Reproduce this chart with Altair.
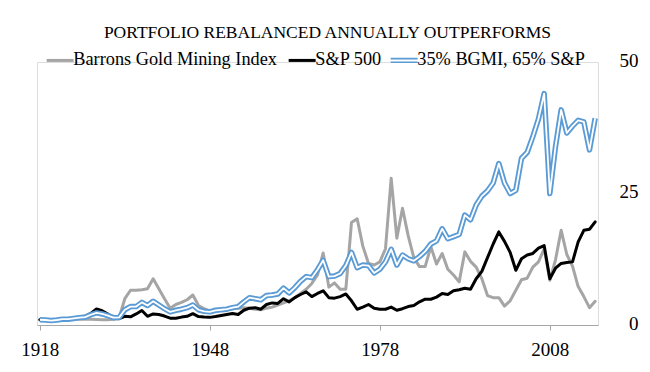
import altair as alt
import pandas as pd

# ---- data ----
years = list(range(1918, 2017))

bgmi = [
    1.0, 0.95, 0.8, 0.95, 1.05, 1.0, 1.1, 1.1, 1.15, 1.1,        # 1918-1927
    1.05, 1.0, 1.0, 1.1, 1.4, 5.0, 6.6, 6.6, 6.7, 6.9,           # 1928-1937
    8.8, 6.9, 5.0, 3.2, 3.9, 4.3, 4.8, 5.7, 3.7, 3.1,            # 1938-1947
    2.6, 2.6, 2.8, 3.0, 3.1, 3.2, 3.3, 3.2, 3.0, 2.9,            # 1948-1957
    3.2, 3.4, 3.8, 4.2, 4.6, 5.2, 6.0, 6.8, 7.9, 9.5,            # 1958-1967
    13.7, 7.2, 8.0, 6.8, 6.8, 19.5, 20.2, 15.0, 11.7, 11.4,      # 1968-1977
    12.0, 14.5, 27.9, 16.5, 22.2, 17.0, 12.8, 11.1, 11.1, 14.9,  # 1978-1987
    11.6, 13.6, 10.6, 9.5, 8.2, 13.9, 12.1, 11.0, 8.8, 5.6,      # 1988-1997
    5.2, 5.2, 3.6, 4.6, 6.6, 8.6, 8.9, 11.0, 12.0, 14.5,         # 1998-2007
    8.5, 12.4, 18.0, 13.4, 11.2, 7.3, 5.4, 3.3, 4.5,             # 2008-2016
]

sp500 = [
    1.0, 1.05, 0.8, 0.95, 1.1, 1.1, 1.3, 1.5, 1.65, 2.2,         # 1918-1927
    3.05, 2.7, 2.1, 1.25, 1.2, 1.65, 1.55, 2.1, 2.75, 1.65,      # 1928-1937
    2.1, 2.0, 1.7, 1.3, 1.3, 1.5, 1.65, 2.15, 1.6, 1.5,          # 1938-1947
    1.45, 1.6, 1.8, 2.0, 2.2, 2.0, 2.8, 3.2, 3.3, 3.0,           # 1948-1957
    3.9, 4.2, 4.1, 5.0, 4.4, 5.2, 5.8, 6.3, 5.4, 6.0,            # 1958-1967
    6.5, 5.2, 5.1, 5.4, 5.9, 4.6, 3.0, 3.4, 3.9, 3.2,            # 1968-1977
    3.0, 3.0, 3.4, 2.8, 3.1, 3.5, 3.7, 4.4, 4.9, 4.9,            # 1978-1987
    5.3, 6.0, 5.8, 6.5, 6.7, 7.0, 6.8, 8.8, 10.2, 12.8,          # 1988-1997
    15.4, 17.7, 15.9, 13.8, 10.4, 12.6, 13.3, 13.6, 14.6, 15.1,  # 1998-2007
    8.8, 10.8, 11.7, 11.9, 12.0, 15.8, 18.0, 18.2, 19.6,         # 2008-2016
]

blend = [
    1.0, 0.95, 0.85, 0.95, 1.1, 1.1, 1.25, 1.4, 1.5, 1.95,       # 1918-1927
    2.3, 2.1, 1.8, 1.4, 1.45, 2.9, 3.5, 3.5, 4.3, 3.7,           # 1928-1937
    4.5, 3.8, 3.1, 2.5, 2.8, 3.0, 3.3, 3.8, 2.9, 2.6,            # 1938-1947
    2.5, 2.8, 2.9, 3.0, 3.3, 3.5, 4.4, 5.2, 5.0, 4.8,            # 1948-1957
    5.6, 5.7, 5.9, 7.0, 6.1, 7.1, 8.3, 9.2, 9.0, 10.5,           # 1958-1967
    12.3, 9.2, 9.3, 9.8, 11.3, 13.8, 10.9, 11.4, 11.3, 9.9,      # 1968-1977
    10.6, 12.0, 14.4, 11.4, 13.3, 12.6, 12.2, 13.0, 14.0, 15.4,  # 1978-1987
    16.0, 18.3, 16.4, 16.8, 17.2, 20.9, 20.0, 22.8, 24.5, 25.5,  # 1988-1997
    27.0, 30.7, 27.0, 25.0, 25.6, 31.7, 32.8, 35.8, 39.2, 44.0,  # 1998-2007
    25.0, 33.9, 40.9, 36.5, 37.8, 38.9, 38.6, 33.3, 39.3,        # 2008-2016
]

series_names = ["Barrons Gold Mining Index", "S&P 500", "35% BGMI, 65% S&P"]
series_colors = ["#a5a5a5", "#000000", "#5b9bd5"]
x_tick_years = [1918, 1948, 1978, 2008]
y_ticks = [0, 25, 50]
title_text = "PORTFOLIO REBALANCED ANNUALLY OUTPERFORMS"

# ---- long table ----
rows = []
for name, vals in zip(series_names, [bgmi, sp500, blend]):
    for yr, v in zip(years, vals):
        rows.append({"year": yr, "series": name, "value": v})
df = pd.DataFrame(rows)

FONT = "Liberation Serif"
BLUE = series_names[2]

x_enc = alt.X(
    "year:O",
    scale=alt.Scale(paddingInner=0, paddingOuter=0),
    axis=alt.Axis(
        values=x_tick_years, bandPosition=0, labelAngle=0, title=None,
        domainColor="#a6a6a6", domainWidth=1, tickColor="#a6a6a6", tickSize=5,
        labelFont=FONT, labelFontSize=19, labelColor="black", labelPadding=10,
        grid=False,
    ),
)
y_enc = alt.Y(
    "value:Q",
    scale=alt.Scale(domain=[0, 50], nice=False),
    axis=alt.Axis(
        orient="right", values=y_ticks, title=None, grid=False, domain=False,
        ticks=False, tickSize=0, labelFont=FONT, labelFontSize=19, labelColor="black",
        labelAlign="right", labelPadding=40, labelBaseline="middle", labelOffset=-2,
    ),
)

shape_expr = "datum.value === '" + BLUE + "' ? 'M-1,-0.13H1M-1,0.13H1' : 'stroke'"
width_expr = "datum.value === '" + BLUE + "' ? 1.6 : 3"

color_enc = alt.Color(
    "series:N",
    scale=alt.Scale(domain=series_names, range=series_colors),
    legend=alt.Legend(
        title=None, orient="none", legendX=14, legendY=-11, direction="horizontal",
        symbolType={"expr": shape_expr}, symbolSize=729,
        symbolStrokeWidth={"expr": width_expr},
        labelFont=FONT, labelFontSize=18.3, labelColor="black", labelOffset=4,
        labelLimit=0, columnPadding=5, padding=0,
    ),
)

base = alt.Chart(df).encode(x=x_enc, y=y_enc, color=color_enc)

gray_line = base.transform_filter(alt.datum.series == series_names[0]).mark_line(
    strokeWidth=3, strokeJoin="round", strokeCap="round")
black_line = base.transform_filter(alt.datum.series == series_names[1]).mark_line(
    strokeWidth=3, strokeJoin="round", strokeCap="round")
blue_line = base.transform_filter(alt.datum.series == series_names[2]).mark_line(
    strokeWidth=5.5, strokeJoin="round", strokeCap="butt")
white_core = alt.Chart(df).transform_filter(alt.datum.series == series_names[2]).mark_line(
    strokeWidth=1.8, strokeJoin="round", color="white").encode(x=x_enc, y=y_enc)

chart = alt.layer(gray_line, black_line, blue_line, white_core).properties(
    width=561,
    height=263,
    autosize=alt.AutoSizeParams(type="none"),
    padding={"left": 29, "top": 54, "right": 44, "bottom": 40},
    title=alt.Title(
        title_text, font=FONT, fontSize=17.5, fontWeight="normal", color="black",
        anchor="middle", dx=10, dy=-6,
    ),
).configure_view(stroke=None).configure(background="white")

chart.save("out.html", embed_options={"renderer": "svg", "actions": False})
